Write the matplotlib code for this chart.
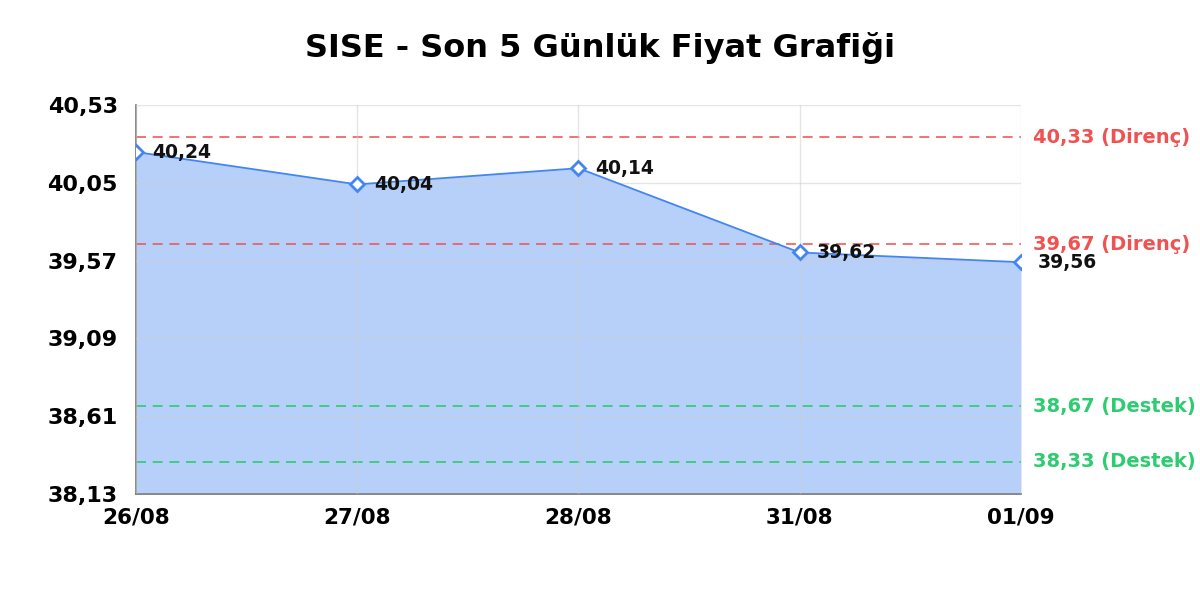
import matplotlib
matplotlib.use("Agg")
import matplotlib.pyplot as plt
import numpy as np

plt.rcParams['font.family'] = ['DejaVu Sans']

dates = ["26/08", "27/08", "28/08", "31/08", "01/09"]
prices = [40.24, 40.04, 40.14, 39.62, 39.56]
resistance = [40.33, 39.67]
support = [38.67, 38.33]
yticks = [38.13, 38.61, 39.09, 39.57, 40.05, 40.53]

line_color = "#4285f4"
red = "#f05252"
green = "#2ecc71"


def tr(v):
    return f"{v:.2f}".replace(".", ",")


fig = plt.figure(figsize=(12, 6), dpi=100)
ax = fig.add_axes([0.1133, 0.1767, 0.7375, 0.6483])

x = np.arange(len(dates))
ax.fill_between(x, prices, yticks[0], color=line_color, alpha=0.38, lw=0, zorder=1)
ax.plot(x, prices, color=line_color, lw=1.3, zorder=3)
ax.plot(x, prices, ls="none", marker="D", ms=7.5, mfc="white", mec=line_color,
        mew=2, zorder=4)

# value labels next to each point
for xi, p in zip(x, prices):
    ax.annotate(tr(p), (xi, p), xytext=(12, 0), textcoords="offset points",
                ha="left", va="center", fontsize=13.5, fontweight="bold",
                color="#111111", zorder=5)

# resistance / support levels
for r in resistance:
    ax.axhline(r, color=red, ls=(0, (6, 4)), lw=1.2, alpha=0.95, zorder=2)
    ax.annotate(f"{tr(r)} (Direnç)", (1, r), xycoords=("axes fraction", "data"),
                xytext=(8.5, 0), textcoords="offset points", ha="left", va="center",
                fontsize=14, fontweight="bold", color=red, annotation_clip=False)
for s in support:
    ax.axhline(s, color=green, ls=(0, (6, 4)), lw=1.2, alpha=1, zorder=2)
    ax.annotate(f"{tr(s)} (Destek)", (1, s), xycoords=("axes fraction", "data"),
                xytext=(8.5, 0), textcoords="offset points", ha="left", va="center",
                fontsize=14, fontweight="bold", color=green, annotation_clip=False)

ax.set_xlim(0, len(dates) - 1)
ax.set_ylim(yticks[0], yticks[-1])
ax.set_xticks(x)
ax.set_xticklabels(dates, fontsize=15.5, fontweight="bold")
ax.set_yticks(yticks)
ax.set_yticklabels([tr(v) for v in yticks], fontsize=16, fontweight="bold")
ax.tick_params(length=0)
ax.tick_params(axis="y", pad=13)
ax.tick_params(axis="x", pad=10)
ax.grid(True, color="#cccccc", alpha=0.5, lw=1, zorder=0)
ax.set_axisbelow(False)
for side in ["top", "right"]:
    ax.spines[side].set_visible(False)
for side in ["left", "bottom"]:
    ax.spines[side].set_color("#777777")
    ax.spines[side].set_linewidth(1.2)

fig.text(0.5, 1 - 48 / 600, "SISE - Son 5 Günlük Fiyat Grafiği", fontsize=23,
         fontweight="bold", ha="center", va="center")

fig.savefig("out.png", dpi=100)
